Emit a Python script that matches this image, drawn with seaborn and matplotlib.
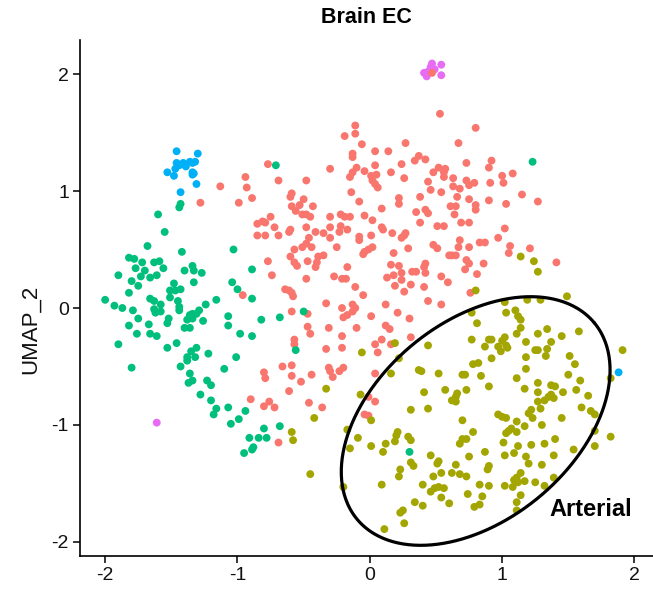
import numpy as np
import pandas as pd
import matplotlib
matplotlib.use("Agg")
import matplotlib.pyplot as plt
import seaborn as sns

# ---- UMAP coordinates per cluster ----
green_xy = [(-1.44,0.86),(-1.43,0.89),(-1.60,0.80),(-1.55,0.65),(-1.68,0.53),(-1.42,0.48),(-1.03,0.50),(-1.82,0.43),
    (-1.78,0.42),(-1.72,0.39),(-1.63,0.39),(-1.59,0.40),(-1.77,0.34),(-1.70,0.32),(-1.56,0.34),(-1.34,0.36),(-1.33,0.32),
    (-1.27,0.30),(-1.40,0.32),(-0.89,0.33),(-1.90,0.28),(-1.73,0.27),(-1.66,0.26),(-1.61,0.28),(-1.80,0.23),(-1.75,0.19),
    (-1.33,0.22),(-1.48,0.21),(-1.51,0.15),(-1.47,0.15),(-1.43,0.16),(-1.04,0.22),(-1.00,0.16),(-1.82,0.13),(-0.89,0.08),
    (-2.00,0.07),(-1.66,0.08),(-1.63,0.06),(-1.51,0.09),(-1.45,0.06),(-1.16,0.07),(-1.93,0.02),(-1.87,0.00),(-1.79,-0.02),
    (-1.58,0.03),(-1.63,-0.01),(-1.58,-0.03),(-1.62,-0.04),(-1.44,0.01),(-1.44,-0.02),(-1.24,0.03),(-1.29,-0.02),
    (-1.34,-0.05),(-1.36,-0.06),(-1.34,-0.09),(-1.38,-0.10),(-1.26,-0.11),(-1.31,-0.05),(-1.75,-0.09),(-1.52,-0.09),
    (-1.53,-0.13),(-1.07,-0.07),(-0.82,-0.10),(-0.68,-0.08),(-1.82,-0.15),(-1.67,-0.14),(-1.07,-0.15),(-1.40,-0.17),
    (-1.36,-0.17),(-1.76,-0.22),(-1.66,-0.22),(-1.61,-0.24),(-0.98,-0.22),(-0.89,-0.24),(-1.90,-0.31),(-1.53,-0.34),
    (-1.46,-0.30),(-1.31,-0.34),(-1.35,-0.37),(-1.32,-0.42),(-1.38,-0.42),(-1.38,-0.45),(-1.22,-0.39),(-1.01,-0.42),
    (-1.80,-0.51),(-1.43,-0.50),(-1.10,-0.52),(-1.36,-0.56),(-1.34,-0.62),(-1.37,-0.64),(-1.23,-0.62),(-1.20,-0.66),
    (-1.28,-0.74),(-1.20,-0.79),(-1.16,-0.86),(-1.18,-0.91),(-1.07,-0.85),(-0.94,-0.88),(-0.99,-0.95),(-1.05,-0.99),
    (-0.80,-1.03),(-0.68,-1.01),(-0.91,-1.11),(-0.84,-1.11),(-0.78,-1.11),(-0.88,-1.19),(-0.89,-1.21),(-0.95,-1.24),
    (-0.71,1.22),(1.23,1.25),(-0.50,-0.03),(-0.56,-0.36),(0.30,-1.23)]

blue_xy = [(-1.46,1.34),(-1.30,1.32),(-1.46,1.24),(-1.44,1.22),(-1.41,1.24),(-1.39,1.21),(-1.36,1.25),(-1.34,1.24),
    (-1.32,1.25),(-1.47,1.19),(-1.53,1.16),(-1.48,1.13),(-1.34,1.16),(-1.33,1.15),(-1.34,1.14),(-1.31,1.06),
    (-1.43,0.99),(1.88,-0.55)]

magenta_xy = [(0.47,2.09),(0.54,2.08),(0.41,2.01),(0.43,1.98),(0.49,2.04),(0.54,1.99),(0.46,2.06),(0.44,2.02),
    (-1.61,-0.98)]

salmon_xy = [(0.47,2.01),
    (-1.13,1.04),(-0.94,1.12),(-0.93,1.03),(-0.89,0.94),(-0.99,0.90),(-1.28,0.90),(-0.77,1.23),(-0.69,1.09),
    (-0.75,0.78),(-0.81,0.74),(-0.85,0.72),(-0.72,0.69),(-0.85,0.62),(-0.79,0.62),(-0.69,0.62),(-0.77,0.40),
    (-0.74,0.28),(-0.64,0.16),(-0.96,0.11),
    (-0.11,1.56),(-0.11,1.49),(-0.19,1.47),(-0.06,1.40),(0.27,1.41),(-0.13,1.32),(-0.13,1.29),(0.04,1.34),(0.14,1.34),
    (0.34,1.26),(0.37,1.30),(0.42,1.27),(0.24,1.23),(0.04,1.22),(-0.30,1.19),(-0.10,1.20),(-0.13,1.16),(-0.04,1.17),
    (0.16,1.16),(-0.48,1.09),(-0.15,1.12),(0.01,1.13),(0.05,1.14),(0.02,1.09),(0.04,1.06),(0.06,1.03),(0.26,1.11),
    (0.44,1.08),(-0.59,0.98),(-0.60,0.95),(-0.14,0.99),(-0.50,0.93),(-0.08,0.91),(0.22,0.94),(0.22,0.89),(0.38,0.95),
    (-0.59,0.87),(-0.53,0.88),(-0.56,0.83),(-0.43,0.87),(0.09,0.85),(0.35,0.82),(-0.51,0.80),(-0.48,0.80),(-0.45,0.78),
    (-0.22,0.80),(-0.19,0.78),(-0.15,0.78),(-0.30,0.78),(-0.04,0.79),(-0.79,0.73),(0.02,0.75),(0.38,0.73),(-0.60,0.67),
    (-0.61,0.65),(-0.48,0.69),(-0.30,0.69),(-0.22,0.70),(-0.23,0.65),(-0.17,0.67),(0.09,0.69),(0.10,0.67),(0.17,0.64),
    (0.27,0.64),(-0.41,0.65),(-0.35,0.64),(-0.08,0.61),(0.01,0.62),(-0.46,0.60),(-0.30,0.60),(0.24,0.60),
    (0.53,1.66),(0.80,1.54),(0.67,1.41),(0.92,1.26),(0.90,1.20),(0.73,1.24),(0.52,1.20),(0.48,1.16),(0.56,1.16),
    (0.57,1.19),(1.08,1.15),(1.00,1.13),(1.01,1.07),(0.56,1.12),(0.63,1.11),(0.46,1.01),(0.73,1.09),(0.75,1.05),
    (0.79,1.07),(0.91,1.07),(0.63,1.04),(0.68,1.02),(0.54,0.99),(1.15,0.97),(0.66,0.95),(0.75,0.93),(0.90,0.92),
    (1.27,0.91),(1.03,0.89),(0.61,0.87),(0.65,0.87),(0.80,0.88),(0.80,0.84),(0.42,0.84),(0.44,0.81),(0.64,0.80),
    (0.69,0.73),(0.75,0.73),(0.51,0.70),(0.56,0.70),(1.02,0.68),(0.97,0.60),(0.68,0.58),
    (-0.08,0.58),(0.26,0.62),(-0.48,0.55),(-0.51,0.52),(-0.44,0.52),(-0.57,0.50),(-0.25,0.52),(0.02,0.52),(-0.01,0.50),
    (-0.04,0.48),(-0.05,0.46),(0.29,0.51),(0.18,0.47),(-0.35,0.45),(-0.39,0.44),(-0.40,0.39),(-0.41,0.35),(-0.60,0.44),
    (-0.57,0.39),(-0.55,0.36),(-0.47,0.40),(-0.17,0.35),(0.16,0.37),(0.22,0.36),(0.42,0.38),(0.41,0.35),(0.24,0.30),
    (0.32,0.31),(0.35,0.31),(0.13,0.26),(0.18,0.28),(-0.48,0.25),(-0.27,0.27),(-0.21,0.25),(-0.18,0.25),(0.24,0.24),
    (0.31,0.20),(0.19,0.19),(0.26,0.14),(0.41,0.18),(-0.11,0.18),(-0.61,0.15),(-0.59,0.13),(-0.58,0.10),(-0.05,0.11),
    (0.44,0.06),(-0.33,0.04),(0.12,0.03),(-0.13,0.03),(-0.11,0.00),(-0.21,0.00),(-0.13,-0.03),(-0.17,-0.06),
    (-0.20,-0.08),(-0.59,-0.03),(-0.47,-0.05),(0.21,-0.04),(0.01,-0.07),(0.30,-0.09),(-0.47,-0.16),(-0.45,-0.22),
    (-0.31,-0.17),(-0.10,-0.17),(0.12,-0.15),(0.15,-0.18),(-0.21,-0.24),(0.31,-0.25),(0.09,-0.27),(-0.57,-0.27),
    (-0.57,-0.31),(0.04,-0.31),(0.16,-0.31),(-0.33,-0.35),(-0.21,-0.34),(0.06,-0.38),
    (0.48,0.54),(0.51,0.51),(0.67,0.52),(0.62,0.45),(0.60,0.45),(0.65,0.45),(0.75,0.52),(0.83,0.56),(0.87,0.56),
    (1.06,0.53),(1.05,0.47),(1.21,0.51),(0.73,0.41),(0.75,0.38),(0.72,0.33),(0.86,0.38),(1.41,0.39),(0.42,0.30),
    (0.81,0.29),(0.54,0.27),(0.59,0.22),(0.76,0.13),(0.54,0.03),
    (-0.59,-0.49),(-0.66,-0.50),(-0.59,-0.58),(-0.31,-0.51),(-0.30,-0.54),(-0.28,-0.59),(-0.23,-0.54),(-0.20,-0.51),
    (-0.44,-0.57),(-0.52,-0.63),(-0.61,-0.71),(0.04,-0.56),(-0.46,-0.81),(-0.36,-0.85),(-0.01,-0.76),(0.04,-0.80),
    (-0.04,-0.91),(-0.01,-0.92),(-0.80,-0.55),(-0.79,-0.60),(-0.90,-0.78),(-0.80,-0.84),(-0.76,-0.80),(-0.72,-0.85),
    (-0.69,-1.15)]

olive_xy = [(-0.06,-0.38),(0.19,-0.30),(0.44,-0.32),(1.14,0.44),(1.24,0.40),(1.27,0.31),(0.80,0.15),(1.49,0.10),
    (1.02,0.05),(1.19,0.07),(1.29,0.07),(0.77,-0.04),(1.03,-0.04),(1.10,-0.02),(1.12,-0.07),(1.14,-0.10),(0.81,-0.13),
    (1.14,-0.17),(1.11,-0.22),(1.34,-0.18),(1.58,-0.20),(1.27,-0.22),(1.45,-0.24),(0.77,-0.27),(0.90,-0.27),
    (0.92,-0.27),(1.02,-0.25),(1.00,-0.28),(1.03,-0.32),(0.97,-0.33),(1.04,-0.34),(1.18,-0.29),(1.37,-0.29),
    (0.87,-0.33),(1.34,-0.35),(1.27,-0.36),(1.25,-0.36),(0.99,-0.37),(1.91,-0.36),(1.51,-0.41),(1.33,-0.41),
    (1.18,-0.42),(0.92,-0.43),(0.78,-0.48),(0.82,-0.47),(1.55,-0.48),(1.18,-0.52),(0.70,-0.57),(0.72,-0.57),
    (0.84,-0.58),(1.11,-0.60),(1.50,-0.57),(0.52,-0.56),(1.82,-0.60),(1.59,-0.62),(1.27,-0.64),(1.37,-0.66),
    (1.40,-0.67),(0.90,-0.67),(1.17,-0.69),(1.27,-0.72),(1.46,-0.72),(1.56,-0.70),(0.57,-0.70),(0.66,-0.73),
    (0.65,-0.76),(0.62,-0.79),(0.65,-0.80),(0.73,-0.70),(1.37,-0.74),(1.35,-0.76),(1.39,-0.77),(1.32,-0.79),
    (1.65,-0.75),(1.27,-0.80),(1.29,-0.86),(1.60,-0.85),(1.67,-0.88),(1.70,-0.91),(1.22,-0.87),(1.20,-0.90),
    (1.23,-0.94),(0.97,-0.91),(1.00,-0.93),(1.03,-0.94),(1.45,-0.94),(0.70,-0.96),(1.11,-0.97),(1.30,-1.00),
    (1.17,-1.01),(1.07,-1.03),(1.05,-1.05),(1.11,-1.06),(1.03,-1.07),(1.70,-1.05),(0.78,-1.06),(1.82,-1.10),
    (0.70,-1.12),(0.73,-1.12),(0.68,-1.16),(1.40,-1.12),(1.01,-1.15),(1.12,-1.18),(1.22,-1.17),(1.32,-1.16),
    (1.70,-1.18),(1.54,-1.21),(0.87,-1.23),(1.09,-1.24),(1.39,-1.26),(0.75,-1.27),(1.18,-1.27),(1.02,-1.26),
    (0.52,-1.31),(0.65,-1.34),(1.20,-1.33),(1.30,-1.34),(0.90,-1.35),(0.89,-1.38),(0.54,-1.41),(0.62,-1.41),
    (0.68,-1.42),(0.73,-1.44),(1.14,-1.41),(1.11,-1.45),(1.09,-1.47),(1.12,-1.49),(1.17,-1.48),(1.25,-1.49),
    (1.39,-1.45),(1.32,-1.52),(0.83,-1.51),(0.90,-1.52),(1.02,-1.52),(1.08,-1.53),(0.56,-1.54),(0.74,-1.59),
    (0.85,-1.61),(1.14,-1.60),(0.60,-1.67),(0.79,-1.70),(0.83,-1.68),(1.11,-1.66),(1.11,-1.73),
    (0.22,-0.43),(0.16,-0.56),(0.37,-0.53),(0.39,-0.54),(0.41,-0.72),(-0.33,-0.69),(-0.07,-0.74),(0.31,-0.87),
    (0.44,-0.86),(-0.42,-0.94),(0.01,-0.96),(-0.17,-1.04),(0.21,-1.06),(0.20,-1.09),(0.29,-1.10),(0.31,-1.13),
    (-0.59,-1.06),(-0.58,-1.13),(-0.09,-1.11),(0.12,-1.16),(0.19,-1.14),(-0.15,-1.20),(0.01,-1.18),(0.10,-1.23),
    (0.31,-1.32),(0.33,-1.35),(0.46,-1.26),(0.51,-1.33),(0.23,-1.38),(0.22,-1.44),(-0.45,-1.42),(0.48,-1.44),
    (0.09,-1.51),(-0.20,-1.53),(0.40,-1.51),(0.46,-1.57),(0.49,-1.54),(0.52,-1.53),(0.54,-1.62),(0.34,-1.66),
    (0.40,-1.69),(0.25,-1.73),(0.23,-1.75),(0.26,-1.84),(0.11,-1.89)]

# drawing order: later clusters sit on top
clusters = ["5", "4", "1", "2", "3"]
cluster_points = [magenta_xy, blue_xy, salmon_xy, olive_xy, green_xy]
palette = {"1": "#F8766D", "2": "#A3A500", "3": "#00BF7D", "4": "#00B0F6", "5": "#E76BF3"}

x_ticks = [-2, -1, 0, 1, 2]
y_ticks = [-2, -1, 0, 1, 2]

rows = []
for name, pts in zip(clusters, cluster_points):
    for px, py in pts:
        rows.append((px, py, name))
df = pd.DataFrame(rows, columns=["UMAP_1", "UMAP_2", "cluster"])

sns.set_theme(style="white")
plt.rcParams["font.family"] = ["Liberation Sans", "DejaVu Sans"]

fig = plt.figure(figsize=(6.53, 5.94), dpi=100)
ax = fig.add_axes([80 / 653, 38 / 594, 573 / 653, 516 / 594])

sns.scatterplot(data=df, x="UMAP_1", y="UMAP_2", hue="cluster", palette=palette,
                s=32, linewidth=0, legend=False, ax=ax)

ax.set_xlim(-2.19, 2.14)
ax.set_ylim(-2.12, 2.291)
ax.set_xticks(x_ticks)
ax.set_yticks(y_ticks)
ax.set_xticklabels([str(t) for t in x_ticks])
ax.set_yticklabels([str(t) for t in y_ticks])
ax.tick_params(axis="both", which="both", direction="out", length=5, width=1.1,
               color="black", labelsize=14, labelcolor="#111111", pad=3,
               bottom=True, left=True)
for side in ["top", "right"]:
    ax.spines[side].set_visible(False)
for side in ["left", "bottom"]:
    ax.spines[side].set_color("black")
    ax.spines[side].set_linewidth(1.2)

ax.set_xlabel("")
ax.set_ylabel("UMAP_2", fontsize=16, color="#111111")
ax.yaxis.set_label_coords(-0.068, 0.44)
ax.set_title("Brain EC", fontsize=15.5, fontweight="bold", pad=12, color="black")

# ellipse around the arterial cluster, defined in screen space so its shape is not
# distorted by the unequal axis scales
fig.canvas.draw()
center = (0.80, -0.966)
semi_major, semi_minor, tilt = 154.0, 99.0, np.deg2rad(39.6)
t = np.linspace(0, 2 * np.pi, 400)
cx, cy = ax.transData.transform(center)
ex = cx + semi_major * np.cos(t) * np.cos(tilt) - semi_minor * np.sin(t) * np.sin(tilt)
ey = cy + semi_major * np.cos(t) * np.sin(tilt) + semi_minor * np.sin(t) * np.cos(tilt)
ell = ax.transData.inverted().transform(np.column_stack([ex, ey]))
ax.plot(ell[:, 0], ell[:, 1], color="black", linewidth=2.3, solid_capstyle="round")

ax.text(1.356, -1.726, "Arterial", fontsize=17, fontweight="bold", ha="left", va="center",
        color="black")

fig.savefig("out.png", dpi=100)
